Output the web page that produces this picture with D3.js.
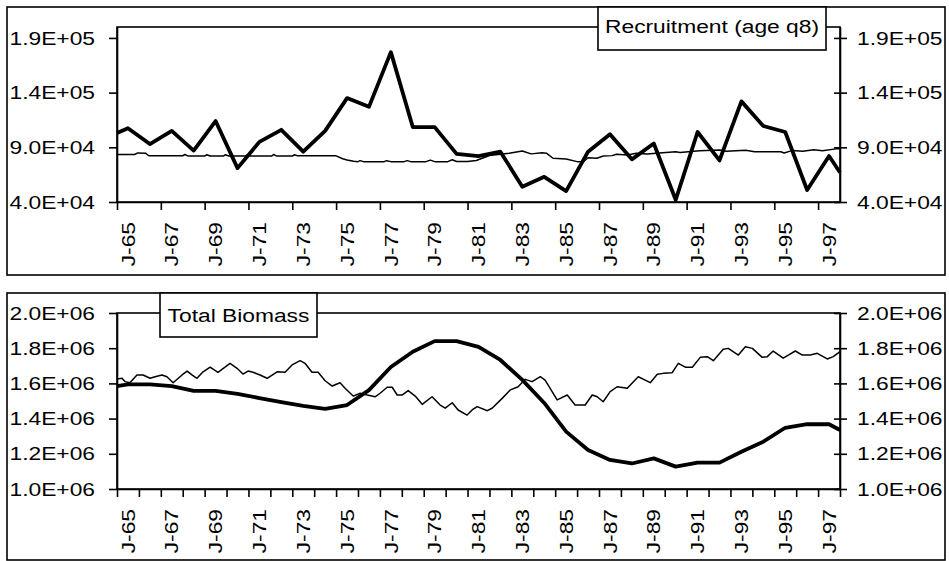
<!DOCTYPE html>
<html>
<head>
<meta charset="utf-8">
<script src="https://cdn.jsdelivr.net/npm/d3@7"></script>
<style>
  body { margin: 0; background: #fff; }
  svg { display: block; font-family: "Liberation Sans", Arial, sans-serif; }
</style>
</head>
<body>
<svg id="chart" width="949" height="561"></svg>
<script>
// annual series are plotted at mid-year, plus the two ends of the axis
var annualYears = [1965, 1965.5, 1966.5, 1967.5, 1968.5, 1969.5, 1970.5, 1971.5, 1972.5, 1973.5,
	1974.5, 1975.5, 1976.5, 1977.5, 1978.5, 1979.5, 1980.5, 1981.5, 1982.5, 1983.5, 1984.5,
	1985.5, 1986.5, 1987.5, 1988.5, 1989.5, 1990.5, 1991.5, 1992.5, 1993.5, 1994.5, 1995.5,
	1996.5, 1997.5, 1998];

var recruitment = [103e3, 107.5e3, 93e3, 105e3, 87e3, 114e3, 71e3, 95e3, 106e3, 86e3,
	105e3, 135e3, 127e3, 177e3, 108.5e3, 108.5e3, 84e3, 82e3, 86e3, 54e3, 63e3,
	50e3, 86e3, 102e3, 79e3, 93.5e3, 42e3, 104e3, 78e3, 132e3, 109.5e3, 104e3,
	51e3, 82e3, 67e3];

var biomass = [1585e3, 1594e3, 1594e3, 1585e3, 1557e3, 1557e3, 1540e3, 1517e3, 1494e3, 1472e3,
	1455e3, 1477e3, 1562e3, 1693e3, 1780e3, 1840e3, 1840e3, 1808e3, 1733e3, 1620e3, 1489e3,
	1326e3, 1222e3, 1165e3, 1145e3, 1174e3, 1127e3, 1150e3, 1150e3, 1212e3, 1269e3, 1348e3,
	1368e3, 1368e3, 1335e3];

// thin lines (irregular dates)
var recruitModelYears = [1965.0, 1965.8, 1965.95, 1966.3, 1966.45, 1968.0, 1968.1, 1968.25, 1969.0, 1969.1,
	1969.25, 1969.85, 1969.95, 1970.1, 1970.85, 1970.95, 1971.1, 1972.05, 1972.15, 1972.3,
	1973.0, 1973.1, 1973.25, 1975.0, 1975.3, 1975.5, 1975.8, 1976.0, 1976.1, 1976.25,
	1977.2, 1977.3, 1977.5, 1978.1, 1978.25, 1978.4, 1979.1, 1979.3, 1979.5, 1980.1,
	1980.3, 1980.5, 1981.0, 1981.4, 1982.0, 1982.9, 1983.5, 1983.9, 1984.4, 1984.6,
	1984.9, 1985.5, 1986.0, 1986.3, 1986.5, 1986.9, 1987.2, 1987.6, 1987.8, 1988.3,
	1988.7, 1989.2, 1989.6, 1990.5, 1990.7, 1991.2, 1991.6, 1992.5, 1992.8, 1993.7,
	1994.1, 1995.3, 1995.45, 1995.8, 1996.3, 1996.8, 1997.2, 1997.9, 1998.0];
var recruitModel = [83.4e3, 83.4e3, 84.9e3, 84.6e3, 82.3e3, 82.3e3, 83.4e3, 82.0e3, 82.0e3, 83.2e3,
	82.0e3, 82.0e3, 83.2e3, 82.0e3, 82.0e3, 83.2e3, 82.0e3, 82.0e3, 83.4e3, 82.0e3,
	82.0e3, 83.2e3, 82.2e3, 82.2e3, 79.5e3, 78.4e3, 77.2e3, 76.9e3, 77.8e3, 76.9e3,
	76.9e3, 77.8e3, 76.9e3, 76.9e3, 77.8e3, 76.9e3, 76.9e3, 78.3e3, 76.9e3, 76.9e3,
	78.6e3, 77.0e3, 77.0e3, 78.0e3, 82.5e3, 84.5e3, 86.6e3, 84.0e3, 85.0e3, 84.6e3,
	80.0e3, 79.4e3, 76.9e3, 77.0e3, 80.5e3, 80.0e3, 82.1e3, 82.4e3, 83.6e3, 82.9e3,
	84.5e3, 83.8e3, 84.5e3, 86.0e3, 85.2e3, 86.2e3, 86.8e3, 87.6e3, 86.4e3, 87.4e3,
	86.0e3, 86.0e3, 84.8e3, 87.0e3, 86.4e3, 87.8e3, 86.8e3, 88.8e3, 88.6e3];

var biomassModelYears = [1965.00, 1965.23, 1965.37, 1965.59, 1965.91, 1966.19, 1966.51, 1966.74, 1967.05, 1967.28,
	1967.56, 1967.97, 1968.20, 1968.42, 1968.65, 1968.93, 1969.25, 1969.61, 1969.93, 1970.16,
	1970.48, 1970.75, 1970.98, 1971.21, 1971.53, 1971.85, 1972.31, 1972.67, 1972.99, 1973.36,
	1973.58, 1973.90, 1974.18, 1974.50, 1974.82, 1975.18, 1975.41, 1975.78, 1976.10, 1976.42,
	1976.78, 1977.01, 1977.33, 1977.56, 1977.79, 1978.01, 1978.29, 1978.61, 1978.93, 1979.38,
	1979.75, 1979.98, 1980.30, 1980.57, 1980.98, 1981.21, 1981.44, 1981.90, 1982.12, 1982.58,
	1982.95, 1983.31, 1983.63, 1983.95, 1984.32, 1984.54, 1984.77, 1985.09, 1985.55, 1985.91,
	1986.37, 1986.69, 1986.92, 1987.19, 1987.51, 1987.83, 1988.29, 1988.79, 1989.11, 1989.34,
	1989.66, 1989.93, 1990.34, 1990.62, 1990.94, 1991.26, 1991.62, 1991.94, 1992.22, 1992.67,
	1992.90, 1993.36, 1993.68, 1994.00, 1994.45, 1994.68, 1994.95, 1995.41, 1995.64, 1995.96,
	1996.28, 1996.64, 1996.96, 1997.42, 1997.69, 1998.00];
var biomassModel = [1625e3, 1629e3, 1610e3, 1604e3, 1648e3, 1648e3, 1629e3, 1638e3, 1648e3, 1638e3,
	1604e3, 1648e3, 1670e3, 1648e3, 1629e3, 1666e3, 1692e3, 1663e3, 1692e3, 1714e3,
	1686e3, 1653e3, 1670e3, 1663e3, 1648e3, 1629e3, 1666e3, 1663e3, 1705e3, 1729e3,
	1714e3, 1663e3, 1663e3, 1615e3, 1585e3, 1604e3, 1572e3, 1528e3, 1544e3, 1534e3,
	1524e3, 1544e3, 1578e3, 1578e3, 1534e3, 1534e3, 1559e3, 1528e3, 1481e3, 1524e3,
	1477e3, 1459e3, 1490e3, 1449e3, 1420e3, 1449e3, 1468e3, 1445e3, 1459e3, 1515e3,
	1563e3, 1581e3, 1623e3, 1610e3, 1638e3, 1619e3, 1572e3, 1506e3, 1534e3, 1477e3,
	1477e3, 1534e3, 1524e3, 1496e3, 1553e3, 1581e3, 1572e3, 1638e3, 1619e3, 1604e3,
	1652e3, 1657e3, 1661e3, 1714e3, 1692e3, 1692e3, 1748e3, 1752e3, 1729e3, 1794e3,
	1799e3, 1761e3, 1808e3, 1799e3, 1748e3, 1752e3, 1784e3, 1743e3, 1761e3, 1784e3,
	1761e3, 1761e3, 1771e3, 1739e3, 1752e3, 1780e3];

// ticks
var recruitTicks = [4.0e4, 9.0e4, 1.4e5, 1.9e5];
var biomassTicks = [1.0e6, 1.2e6, 1.4e6, 1.6e6, 1.8e6, 2.0e6];
var labelYears = [1965, 1967, 1969, 1971, 1973, 1975, 1977, 1979, 1981, 1983, 1985, 1987,
	1989, 1991, 1993, 1995, 1997];
var everyYear = [1965, 1966, 1967, 1968, 1969, 1970, 1971, 1972, 1973, 1974, 1975, 1976,
	1977, 1978, 1979, 1980, 1981, 1982, 1983, 1984, 1985, 1986, 1987, 1988, 1989, 1990,
	1991, 1992, 1993, 1994, 1995, 1996, 1997, 1998];

var svg = d3.select("#chart");
var LW = 1.6;        // axis / frame line width
var FS = 19;         // font size
var STRETCH = 1.2;   // text in the picture is drawn wider than normal

var x = d3.scaleLinear().domain([1965, 1998]).range([117, 840]);

// 1.9E+05 style
function sci(v) {
	var p = v.toExponential(1).split("e");
	var e = +p[1];
	return p[0] + "E" + (e < 0 ? "-" : "+") + (Math.abs(e) < 10 ? "0" : "") + Math.abs(e);
}

function yearLabel(y) {
	return "J-" + String(y).slice(2);
}

function styleAxis(g) {
	g.attr("color", "#000");
	g.selectAll("path, line").attr("stroke-width", LW);
	g.selectAll("text").remove();
}

function panel(p) {
	var g = svg.append("g");
	var y = d3.scaleLinear().domain(p.yDomain).range([p.plotBottom, p.plotTop]);

	// outer frame
	g.append("rect")
		.attr("x", 7).attr("y", p.boxTop)
		.attr("width", 938).attr("height", p.boxBottom - p.boxTop)
		.attr("fill", "none").attr("stroke", "#000").attr("stroke-width", LW);

	// plot area
	g.append("rect")
		.attr("x", x.range()[0]).attr("y", p.plotTop)
		.attr("width", x.range()[1] - x.range()[0]).attr("height", p.plotBottom - p.plotTop)
		.attr("fill", "none").attr("stroke", "#000").attr("stroke-width", LW);

	// series
	var line = d3.line()
		.x(function(d) { return x(d[0]); })
		.y(function(d) { return y(d[1]); });
	p.series.forEach(function(s) {
		g.append("path")
			.datum(d3.zip(s.years, s.values))
			.attr("d", line)
			.attr("fill", "none")
			.attr("stroke", "#000")
			.attr("stroke-width", s.width)
			.attr("stroke-linejoin", "round");
	});

	// left axis
	g.append("g")
		.attr("transform", "translate(" + x.range()[0] + ",0)")
		.call(d3.axisLeft(y).tickValues(p.yTicks).tickSize(8).tickSizeOuter(0))
		.call(styleAxis);

	// right axis, ticks cross the line
	var right = g.append("g")
		.attr("transform", "translate(" + x.range()[1] + ",0)")
		.call(d3.axisRight(y).tickValues(p.yTicks).tickSize(7).tickSizeOuter(0))
		.call(styleAxis);
	right.selectAll(".tick line").attr("x1", -6);

	// bottom axis
	g.append("g")
		.attr("transform", "translate(0," + p.plotBottom + ")")
		.call(d3.axisBottom(x).tickValues(p.xTicks).tickSize(8).tickSizeOuter(0))
		.call(styleAxis);

	// y labels both sides
	p.yTicks.forEach(function(v) {
		g.append("text")
			.attr("transform", "translate(" + (x.range()[0] - 22) + "," + y(v) + ") scale(" + STRETCH + ",1)")
			.attr("dy", "0.35em")
			.attr("text-anchor", "end")
			.attr("font-size", FS)
			.text(sci(v));
		g.append("text")
			.attr("transform", "translate(" + (x.range()[1] + 17) + "," + y(v) + ") scale(" + STRETCH + ",1)")
			.attr("dy", "0.35em")
			.attr("text-anchor", "start")
			.attr("font-size", FS)
			.text(sci(v));
	});

	// x labels, centred in their year
	labelYears.forEach(function(yr) {
		g.append("text")
			.attr("transform", "translate(" + x(yr + 0.5) + "," + (p.plotBottom + 20) + ") rotate(-90) scale(" + STRETCH + ",1)")
			.attr("dy", "0.35em")
			.attr("text-anchor", "end")
			.attr("font-size", FS)
			.text(yearLabel(yr));
	});

	// legend box
	var L = p.legend;
	g.append("rect")
		.attr("x", L.x0).attr("y", p.boxTop)
		.attr("width", L.x1 - L.x0).attr("height", L.y1 - p.boxTop)
		.attr("fill", "#fff").attr("stroke", "#000").attr("stroke-width", LW);
	g.append("text")
		.attr("transform", "translate(" + ((L.x0 + L.x1) / 2) + "," + L.baseline + ") scale(" + STRETCH + ",1)")
		.attr("text-anchor", "middle")
		.attr("font-size", FS)
		.text(L.text);
}

panel({
	boxTop: 7, boxBottom: 275,
	plotTop: 27, plotBottom: 202,
	yDomain: [4.0e4, 2.0e5],
	yTicks: recruitTicks,
	xTicks: labelYears,
	series: [
		{ years: recruitModelYears, values: recruitModel, width: 1.5 },
		{ years: annualYears, values: recruitment, width: 3.8 }
	],
	legend: { text: "Recruitment (age q8)", x0: 598, x1: 826, y1: 50, baseline: 33 }
});

panel({
	boxTop: 293, boxBottom: 560,
	plotTop: 313, plotBottom: 489,
	yDomain: [1.0e6, 2.0e6],
	yTicks: biomassTicks,
	xTicks: everyYear,
	series: [
		{ years: biomassModelYears, values: biomassModel, width: 1.5 },
		{ years: annualYears, values: biomass, width: 3.8 }
	],
	legend: { text: "Total Biomass", x0: 160, x1: 317, y1: 337, baseline: 322 }
});
</script>
</body>
</html>
